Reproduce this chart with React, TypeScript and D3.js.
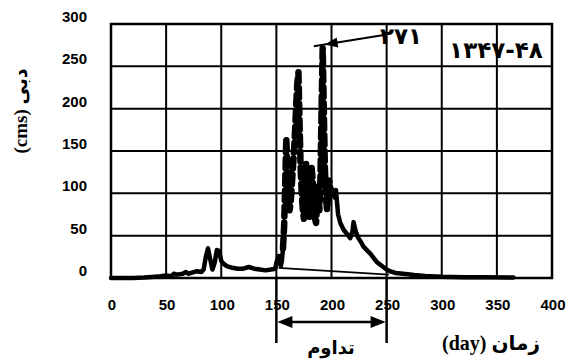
import React from "react";
import * as d3 from "d3";

const xTicks = [0, 50, 100, 150, 200, 250, 300, 350, 400];
const yTicks = [0, 50, 100, 150, 200, 250, 300];

const days = [
  0, 10, 20, 30, 40, 45, 50, 55, 57, 60, 65, 68, 70, 75, 78, 82, 84, 86, 88, 90, 92, 94, 96, 98, 100, 102, 105, 110,
  115, 120, 125, 130, 135, 140, 145, 149, 150, 152, 154, 155, 156, 157, 158, 159, 160, 161, 162, 163, 164, 165, 166,
  167, 168, 169, 170, 171, 172, 173, 174, 175, 176, 177, 178, 179, 180, 181, 182, 183, 184, 185, 186, 187, 188, 189,
  190, 191, 192, 193, 194, 195, 196, 197, 198, 199, 200, 201, 203, 204, 206, 208, 211, 214, 217, 219, 220, 222, 224,
  227, 229, 232, 235, 238, 241, 244, 247, 250, 253, 258, 265, 275, 285, 300, 320, 340, 365,
];
const flow = [
  0, 0, 0, 0.5, 1.5, 2, 3, 2, 5, 4, 5, 7, 5, 7, 8, 7, 10, 25, 35, 22, 10, 18, 33, 32, 20, 17, 14, 12, 11, 11, 13, 11,
  10, 9, 10, 11, 18, 26, 14, 20, 35, 60, 110, 165, 130, 95, 80, 90, 110, 130, 150, 175, 205, 230, 243, 185, 130, 100,
  80, 70, 95, 135, 120, 90, 72, 85, 130, 115, 85, 70, 65, 90, 110, 80, 120, 200, 271, 200, 130, 95, 80, 100, 115, 105,
  100, 104, 95, 104, 75, 65, 57, 52, 47, 55, 66, 55, 48, 42, 37, 33, 29, 24, 19, 16, 13, 10, 8, 6, 5, 3.5, 2.5, 1.5,
  1, 0.8, 0.5,
];
const dashedRange = [156, 200];
const baseflowDays = [152, 252];
const baseflowValues = [12, 4];
const durationDays = [150, 250];
const peakDay = 192;
const peakValue = 271;
const peakLabel = "۲۷۱";
const yearLabel = "۱۳۴۷-۴۸";
const durationLabel = "تداوم";
const xTitle = "(day) زمان";
const yTitle = "(cms) دبی";

export default function App() {
  const W = 566;
  const H = 360;
  const left = 111;
  const right = 552;
  const top = 24;
  const bottom = 278;
  const x = d3.scaleLinear().domain([0, 400]).range([left, right]);
  const y = d3.scaleLinear().domain([0, 300]).range([bottom, top]);
  const pts = days.map((d, i) => ({ d, v: flow[i] }));
  const line = d3
    .line<{ d: number; v: number }>()
    .x((p) => x(p.d))
    .y((p) => y(p.v))
    .curve(d3.curveLinear);
  const segA = pts.filter((p) => p.d <= dashedRange[0]);
  const segB = pts.filter((p) => p.d >= dashedRange[0] && p.d <= dashedRange[1]);
  const segC = pts.filter((p) => p.d >= dashedRange[1]);
  const numFont = "'Liberation Sans', Arial, sans-serif";
  const titleFont = "'Liberation Serif', 'DejaVu Sans', serif";
  const tipX = x(peakDay) + 2;
  const tipY = y(peakValue) - 4;
  const tailX = 384;
  const tailY = 35;
  const ang = Math.atan2(tipY - tailY, tipX - tailX);
  const arrowHead = (tx: number, ty: number, a: number, ah: number, aw: number) => {
    const bx = tx - ah * Math.cos(a);
    const by = ty - ah * Math.sin(a);
    const px = -Math.sin(a) * aw;
    const py = Math.cos(a) * aw;
    return `M${tx},${ty}L${bx + px},${by + py}L${bx - px},${by - py}Z`;
  };
  const durY = 322;
  const x1 = x(durationDays[0]);
  const x2 = x(durationDays[1]);
  return (
    <svg width={W} height={H} style={{ position: "absolute", left: 0, top: 0, background: "#fff" }}>
      <rect x={0} y={0} width={W} height={H} fill="#fff" />
      {xTicks.map((t) => (
        <line key={"gx" + t} x1={x(t)} x2={x(t)} y1={top} y2={bottom} stroke="#000" strokeWidth={2} />
      ))}
      {yTicks.map((t) => (
        <line key={"gy" + t} x1={left} x2={right} y1={y(t)} y2={y(t)} stroke="#000" strokeWidth={2} />
      ))}
      <rect x={left} y={top} width={right - left} height={bottom - top} fill="none" stroke="#000" strokeWidth={2.5} />
      {yTicks.map((t) => (
        <text key={"ly" + t} x={87} y={y(t) - 2} textAnchor="end" fontFamily={numFont} fontWeight="bold" fontSize={15} fill="#000">
          {t}
        </text>
      ))}
      {xTicks.map((t) => (
        <text key={"lx" + t} x={x(t) + 1} y={310} textAnchor="middle" fontFamily={numFont} fontWeight="bold" fontSize={15} fill="#000">
          {t}
        </text>
      ))}
      <line
        x1={x(baseflowDays[0])}
        y1={y(baseflowValues[0])}
        x2={x(baseflowDays[1])}
        y2={y(baseflowValues[1])}
        stroke="#000"
        strokeWidth={1.6}
      />
      <path d={line(segA) || ""} fill="none" stroke="#000" strokeWidth={4.5} strokeLinejoin="round" strokeLinecap="round" />
      <path d={line(segC) || ""} fill="none" stroke="#000" strokeWidth={4.5} strokeLinejoin="round" strokeLinecap="round" />
      <path
        d={line(segB) || ""}
        fill="none"
        stroke="#000"
        strokeWidth={6.5}
        strokeDasharray="10 6"
        strokeLinejoin="round"
        strokeLinecap="round"
      />
      <line x1={tailX} y1={tailY} x2={tipX + 11 * Math.cos(ang)} y2={tipY + 11 * Math.sin(ang)} stroke="#000" strokeWidth={2} />
      <path d={arrowHead(tipX, tipY, ang, 13, 5)} fill="#000" />
      <text x={401} y={44} textAnchor="middle" fontFamily="'DejaVu Sans', sans-serif" fontWeight="bold" fontSize={23} fill="#000">
        {peakLabel}
      </text>
      <text x={496} y={58} textAnchor="middle" fontFamily="'DejaVu Sans', sans-serif" fontWeight="bold" fontSize={23} fill="#000">
        {yearLabel}
      </text>
      <line x1={x1} x2={x1} y1={bottom} y2={343} stroke="#000" strokeWidth={2.5} />
      <line x1={x2} x2={x2} y1={bottom} y2={343} stroke="#000" strokeWidth={2.5} />
      <line x1={x1 + 10} x2={x2 - 10} y1={durY} y2={durY} stroke="#000" strokeWidth={2.5} />
      <path d={arrowHead(x1 + 1, durY, Math.PI, 15, 6)} fill="#000" />
      <path d={arrowHead(x2 - 1, durY, 0, 15, 6)} fill="#000" />
      <text x={331} y={354} textAnchor="middle" fontFamily={titleFont} fontWeight="bold" fontSize={18} fill="#000">
        {durationLabel}
      </text>
      <text x={491} y={350} textAnchor="middle" fontFamily={titleFont} fontWeight="bold" fontSize={20} fill="#000">
        {xTitle}
      </text>
      <text
        transform={`translate(27,111) rotate(-90)`}
        textAnchor="middle"
        fontFamily={titleFont}
        fontWeight="bold"
        fontSize={19}
        fill="#000"
      >
        {yTitle}
      </text>
    </svg>
  );
}
